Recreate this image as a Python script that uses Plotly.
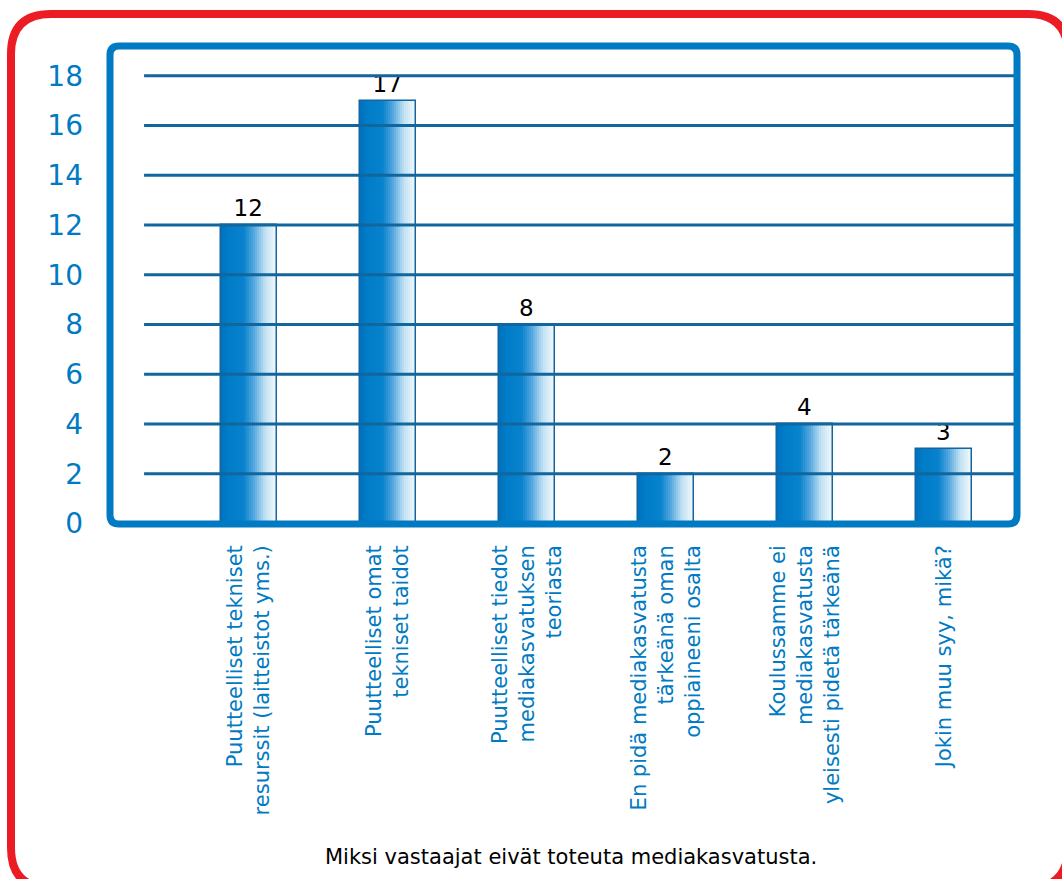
import plotly.graph_objects as go

categories = [
    "Puutteelliset tekniset<br>resurssit (laitteistot yms.)",
    "Puutteelliset omat<br>tekniset taidot",
    "Puutteelliset tiedot<br>mediakasvatuksen<br>teoriasta",
    "En pidä mediakasvatusta<br>tärkeänä oman<br>oppiaineeni osalta",
    "Koulussamme ei<br>mediakasvatusta<br>yleisesti pidetä tärkeänä",
    "Jokin muu syy, mikä?",
]
values = [12, 17, 8, 2, 4, 3]
y_ticks = [0, 2, 4, 6, 8, 10, 12, 14, 16, 18]
caption = "Miksi vastaajat eivät toteuta mediakasvatusta."

W, H = 1062, 879
ML, MR, MT, MB = 110, 45, 46, 355
PW, PH = W - ML - MR, H - MT - MB

BLUE = "rgb(0,122,194)"
GRID = "rgb(18,102,158)"
RED = "rgb(236,28,36)"
FONT = "DejaVu Sans"

xs = list(range(len(values)))
bar_w = 0.40
N = 28

# gradient profile (t, rgb)
stops = [
    (0.00, (0, 112, 188)),
    (0.12, (0, 124, 200)),
    (0.40, (8, 130, 204)),
    (0.58, (80, 165, 222)),
    (0.78, (190, 224, 243)),
    (1.00, (248, 251, 253)),
]


def grad(t):
    for (t0, c0), (t1, c1) in zip(stops[:-1], stops[1:]):
        if t0 <= t <= t1:
            f = (t - t0) / (t1 - t0) if t1 > t0 else 0
            c = [round(a + (b - a) * f) for a, b in zip(c0, c1)]
            return f"rgb({c[0]},{c[1]},{c[2]})"
    return "rgb(248,251,253)"


fig = go.Figure()
sw = bar_w / N
for k in range(N):
    t = (k + 0.5) / N
    fig.add_trace(go.Bar(
        x=xs, y=values, width=[sw * 1.05] * len(xs),
        offset=-bar_w / 2 + k * sw,
        marker=dict(color=grad(t), line=dict(width=0)),
        hoverinfo="skip", showlegend=False,
    ))

fig.add_trace(go.Bar(
    x=xs, y=values, width=[bar_w] * len(xs),
    marker=dict(color="rgba(0,0,0,0)", line=dict(color="rgb(20,100,160)", width=1.5)),
    text=[str(v) for v in values], textposition="outside",
    textfont=dict(family=FONT, size=23, color="black"),
    cliponaxis=False, showlegend=False,
))

shapes = []
for v in y_ticks[1:]:
    shapes.append(dict(type="line", xref="x", yref="y", x0=-0.755, x1=5.525,
                       y0=v, y1=v, line=dict(color=GRID, width=3), layer="above"))


def rounded(x0, y0, x1, y1, r):
    rx, ry = r / PW, r / PH
    return (f"M {x0+rx},{y0} L {x1-rx},{y0} Q {x1},{y0} {x1},{y0+ry} "
            f"L {x1},{y1-ry} Q {x1},{y1} {x1-rx},{y1} L {x0+rx},{y1} "
            f"Q {x0},{y1} {x0},{y1-ry} L {x0},{y0+ry} Q {x0},{y0} {x0+rx},{y0} Z")


def px_x(p):
    return (p - ML) / PW


def px_y(p):
    return (H - MB - p) / PH


# plot border
shapes.append(dict(type="path", xref="paper", yref="paper",
                   path=rounded(0, 0, 1, 1, 9), line=dict(color=BLUE, width=7),
                   layer="above"))
# outer red frame (extends beyond the right and bottom edges)
shapes.append(dict(type="path", xref="paper", yref="paper",
                   path=rounded(px_x(11), px_y(888), px_x(1068), px_y(14), 40),
                   line=dict(color=RED, width=8), layer="above"))

fig.update_layout(
    width=W, height=H,
    margin=dict(l=ML, r=MR, t=MT, b=MB, autoexpand=False),
    paper_bgcolor="white", plot_bgcolor="white",
    barmode="overlay", bargap=0,
    shapes=shapes,
    xaxis=dict(range=[-1.0, 5.525], tickmode="array", tickvals=xs, ticktext=categories,
               tickangle=-90, tickfont=dict(family=FONT, size=21, color=BLUE),
               showgrid=False, zeroline=False, showline=False, ticks="",
               ticklabelstandoff=16, fixedrange=True),
    yaxis=dict(range=[-0.02, 19.2], tickmode="array", tickvals=y_ticks,
               tickfont=dict(family=FONT, size=28, color=BLUE),
               showgrid=False, zeroline=False, showline=False, ticks="",
               ticklabelstandoff=26, fixedrange=True),
    annotations=[dict(text=caption, xref="paper", yref="paper", x=px_x(571), y=px_y(857),
                      xanchor="center", yanchor="middle", showarrow=False,
                      font=dict(family=FONT, size=21, color="black"))],
    showlegend=False,
)

fig.write_html("out.html", config={"displayModeBar": False},
               post_script="document.body.style.margin='0';document.body.style.overflow='hidden';")
